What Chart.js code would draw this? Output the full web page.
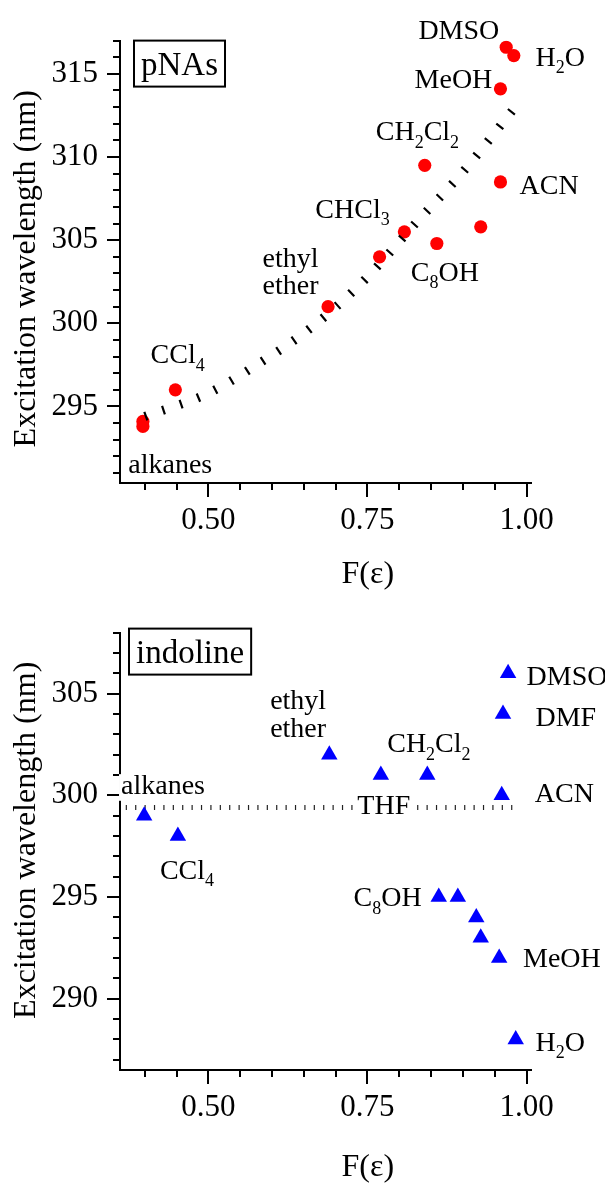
<!DOCTYPE html>
<html>
<head>
<meta charset="utf-8">
<script src="https://cdn.jsdelivr.net/npm/chart.js@4.4.1/dist/chart.umd.min.js"></script>
<style>
  html, body { margin: 0; padding: 0; background: #fff; }
  canvas { display: block; }
</style>
</head>
<body>
<canvas id="pnaChart" width="605" height="592"></canvas>
<canvas id="indChart" width="605" height="592"></canvas>
<script>
// pNAs: F(eps) vs excitation wavelength (nm)
const pnaF = [0.397, 0.397, 0.448, 0.688, 0.769, 0.808, 0.840, 0.859, 0.928, 0.959, 0.959, 0.968, 0.980];
const pnaNm = [294.1, 293.8, 296.0, 301.0, 304.0, 305.5, 309.5, 304.8, 305.8, 308.5, 314.1, 316.6, 316.1];
// fitted trend
const fitF = [0.40, 0.50, 0.58, 0.66, 0.74, 0.83, 0.90, 0.98];
const fitNm = [294.4, 295.8, 297.6, 299.7, 302.4, 306.2, 309.1, 312.9];

// indoline
const indF = [0.399, 0.452, 0.690, 0.771, 0.844, 0.862, 0.892, 0.921, 0.928, 0.957, 0.961, 0.963, 0.971, 0.983];
const indNm = [299, 298, 302, 301, 301, 295, 295, 294, 293, 292, 300, 304, 306, 288];
const meanF = [0.37, 0.98];
const meanNm = [299.4, 299.4];

const xTicks = [0.5, 0.75, 1.0];
const pnaYTicks = [295, 300, 305, 310, 315];
const indYTicks = [290, 295, 300, 305];

// solvent labels ("_n" = subscript n), anchored left/baseline in data units
const pnaLabels = ["DMSO", "H_2O", "MeOH", "CH_2Cl_2", "ACN", "CHCl_3", "C_8OH", "ethyl", "ether", "CCl_4", "alkanes"];
const pnaLabelF = [0.830, 1.014, 0.824, 0.763, 0.989, 0.668, 0.818, 0.585, 0.585, 0.409, 0.374];
const pnaLabelNm = [317.08, 315.46, 314.14, 311.0, 307.8, 306.34, 302.56, 303.4, 301.78, 297.6, 291.0];

const indLabels = ["DMSO", "DMF", "ethyl", "ether", "CH_2Cl_2", "ACN", "alkanes", "THF", "CCl_4", "C_8OH", "MeOH", "H_2O"];
const indLabelF = [1.0, 1.014, 0.597, 0.597, 0.781, 1.013, 0.3626, 0.734, 0.4237, 0.728, 0.9945, 1.014];
const indLabelNm = [305.41, 303.4, 304.23, 302.89, 302.12, 299.65, 300.05, 299.06, 295.89, 294.54, 291.55, 287.43];
const indLabelBg = ["alkanes", "THF"];

const serif = '"Liberation Serif", "Times New Roman", serif';

function drawRich(ctx, text, x, y, size, bg) {
  const parts = text.split(/_(\d)/);
  const sub = Math.round(size * 0.66);
  let w = 0;
  const segs = parts.map((p, i) => {
    const isSub = i % 2 === 1;
    ctx.font = (isSub ? sub : size) + "px " + serif;
    const s = { p, isSub, x: x + w };
    w += ctx.measureText(p).width;
    return s;
  });
  if (bg) {
    ctx.fillStyle = "#fff";
    ctx.fillRect(x - 2, y - size * 0.72, w + 4, size * 0.95);
  }
  ctx.fillStyle = "#000";
  ctx.textAlign = "left";
  ctx.textBaseline = "alphabetic";
  segs.forEach((s) => {
    ctx.font = (s.isSub ? sub : size) + "px " + serif;
    ctx.fillText(s.p, s.x, s.isSub ? y + size * 0.26 : y);
  });
}

const decor = {
  id: "decor",
  beforeDatasetsDraw(chart, args, o) {
    const { ctx, chartArea: a, scales } = chart;
    const x = scales.x, y = scales.y;
    ctx.save();
    ctx.strokeStyle = "#000";
    ctx.lineWidth = 2;
    ctx.beginPath();
    for (let v = Math.ceil(y.min); v <= y.max; v++) {
      const py = Math.round(y.getPixelForValue(v));
      const len = v % 5 === 0 ? 13 : 7;
      ctx.moveTo(a.left, py);
      ctx.lineTo(a.left - len, py);
    }
    for (let k = 8; k <= 20; k++) {
      const v = k * 0.05;
      if (v < x.min || v > x.max) continue;
      const px = Math.round(x.getPixelForValue(v));
      const len = k % 5 === 0 ? 14 : 7;
      ctx.moveTo(px, a.bottom);
      ctx.lineTo(px, a.bottom + len);
    }
    ctx.stroke();
    ctx.restore();
  },
  afterDatasetsDraw(chart, args, o) {
    const { ctx, chartArea: a, scales } = chart;
    const x = scales.x, y = scales.y;
    ctx.save();
    o.labels.forEach((t, i) => {
      drawRich(ctx, t, x.getPixelForValue(o.labelF[i]), y.getPixelForValue(o.labelNm[i]), 28, (o.bg || []).includes(t));
    });
    // name box
    ctx.font = "33px " + serif;
    const bw = ctx.measureText(o.name).width;
    const bx = a.left + o.boxDx, by = a.top + o.boxDy;
    ctx.fillStyle = "#fff";
    ctx.fillRect(bx, by, bw + 14, 46);
    ctx.strokeStyle = "#000";
    ctx.lineWidth = 2;
    ctx.strokeRect(bx, by, bw + 14, 46);
    ctx.fillStyle = "#000";
    ctx.textBaseline = "alphabetic";
    ctx.fillText(o.name, bx + 7, by + 34);
    // axis titles
    ctx.font = "32px " + serif;
    ctx.textAlign = "center";
    ctx.textBaseline = "middle";
    ctx.fillText("F(\u03b5)", a.left + a.width * 0.603, a.bottom + o.xTitleDy);
    ctx.translate(27, (a.top + a.bottom) / 2 + o.yTitleDy);
    ctx.rotate(-Math.PI / 2);
    ctx.fillText("Excitation wavelength (nm)", 0, 0);
    ctx.restore();
  },
};

function scales(yMin, yMax, yTicks, xHeight) {
  const tickFont = { family: serif, size: 31 };
  return {
    x: {
      type: "linear",
      min: 0.361,
      max: 1.007,
      afterBuildTicks: (s) => { s.ticks = xTicks.map((v) => ({ value: v })); },
      afterFit: (s) => { s.height = xHeight; },
      grid: { display: false, drawTicks: false },
      border: { display: true, color: "#000", width: 2 },
      ticks: { color: "#000", font: tickFont, padding: 19, maxRotation: 0,
        callback: (v) => Number(v).toFixed(2) },
    },
    y: {
      min: yMin,
      max: yMax,
      afterBuildTicks: (s) => { s.ticks = yTicks.map((v) => ({ value: v })); },
      afterFit: (s) => { s.width = 120; },
      grid: { display: false, drawTicks: false },
      border: { display: true, color: "#000", width: 2 },
      ticks: { color: "#000", font: tickFont, padding: 22 },
    },
  };
}

new Chart(document.getElementById("pnaChart"), {
  type: "scatter",
  data: {
    datasets: [
      {
        data: fitF.map((f, i) => ({ x: f, y: fitNm[i] })),
        showLine: true,
        pointRadius: 0,
        borderColor: "#000",
        borderWidth: 9,
        borderDash: [2.2, 16.4],
        tension: 0.4,
        cubicInterpolationMode: "monotone",
      },
      {
        data: pnaF.map((f, i) => ({ x: f, y: pnaNm[i] })),
        pointStyle: "circle",
        pointRadius: 6.6,
        backgroundColor: "#ff0000",
        borderWidth: 0,
      },
    ],
  },
  options: {
    responsive: false,
    animation: false,
    events: [],
    layout: { padding: { top: 38, right: 74, left: 0, bottom: 0 } },
    plugins: {
      legend: { display: false },
      tooltip: { enabled: false },
      decor: { labels: pnaLabels, labelF: pnaLabelF, labelNm: pnaLabelNm, name: "pNAs", boxDx: 14, boxDy: 0, yTitleDy: 7, xTitleDy: 92 },
    },
    scales: scales(290.4, 317, pnaYTicks, 109),
  },
  plugins: [decor],
});

new Chart(document.getElementById("indChart"), {
  type: "scatter",
  data: {
    datasets: [
      {
        data: indF.map((f, i) => ({ x: f, y: indNm[i] })),
        pointStyle: "triangle",
        pointRadius: 9.5,
        backgroundColor: "#0000ff",
        borderWidth: 0,
      },
      {
        data: meanF.map((f, i) => ({ x: f, y: meanNm[i] })),
        showLine: true,
        pointRadius: 0,
        borderColor: "#222",
        borderWidth: 5,
        borderDash: [1.2, 8.2],
      },
    ],
  },
  options: {
    responsive: false,
    animation: false,
    events: [],
    layout: { padding: { top: 32, right: 74, left: 0, bottom: 0 } },
    plugins: {
      legend: { display: false },
      tooltip: { enabled: false },
      decor: { labels: indLabels, labelF: indLabelF, labelNm: indLabelNm, bg: indLabelBg, name: "indoline", boxDx: 9, boxDy: -4, yTitleDy: -11, xTitleDy: 98 },
    },
    scales: scales(286.5, 308, indYTicks, 114),
  },
  plugins: [decor],
});
</script>
</body>
</html>
